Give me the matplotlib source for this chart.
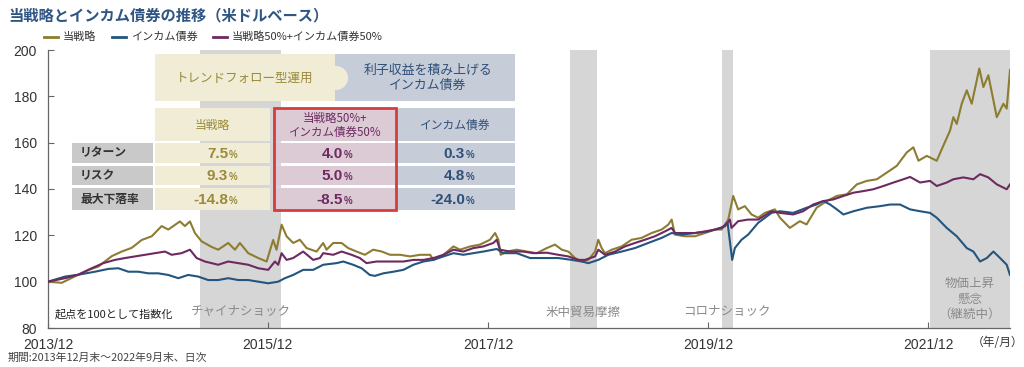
import matplotlib
matplotlib.use("Agg")
import matplotlib.pyplot as plt
from matplotlib.patches import Rectangle, Ellipse
from matplotlib.lines import Line2D
from datetime import datetime, timedelta

# ---------------- data (time in decimal years; 2014.0 = end of 2013/12) ----------------
strategy_t = [2014.000, 2014.125, 2014.275, 2014.366, 2014.457, 2014.579, 2014.670, 2014.761, 2014.852, 2014.943,
              2015.034, 2015.094, 2015.200, 2015.245, 2015.291, 2015.336, 2015.397, 2015.488, 2015.548, 2015.639,
              2015.700, 2015.745, 2015.821, 2015.912, 2015.988, 2016.048, 2016.079, 2016.125, 2016.170, 2016.230,
              2016.291, 2016.352, 2016.443, 2016.503, 2016.534, 2016.594, 2016.670, 2016.730, 2016.806, 2016.882,
              2016.957, 2017.034, 2017.109, 2017.200, 2017.291, 2017.382, 2017.473, 2017.503, 2017.594, 2017.685,
              2017.745, 2017.836, 2017.927, 2018.018, 2018.064, 2018.094, 2018.115, 2018.170, 2018.261, 2018.352,
              2018.443, 2018.534, 2018.609, 2018.670, 2018.730, 2018.791, 2018.852, 2018.912, 2018.973, 2019.003,
              2019.034, 2019.064, 2019.125, 2019.215, 2019.306, 2019.397, 2019.488, 2019.579, 2019.639, 2019.670,
              2019.700, 2019.791, 2019.882, 2019.973, 2020.064, 2020.125, 2020.185, 2020.230, 2020.275, 2020.336,
              2020.397, 2020.457, 2020.518, 2020.609, 2020.655, 2020.745, 2020.836, 2020.897, 2020.988, 2021.079,
              2021.170, 2021.261, 2021.352, 2021.443, 2021.534, 2021.625, 2021.715, 2021.806, 2021.866, 2021.912,
              2021.988, 2022.079, 2022.139, 2022.200, 2022.230, 2022.261, 2022.306, 2022.352, 2022.397, 2022.466,
              2022.503, 2022.548, 2022.594, 2022.625, 2022.685, 2022.715, 2022.745]
strategy_v = [100.0, 99.5, 103.0, 105.0, 106.5, 111.0, 113.0, 114.6, 118.0, 119.6,
              124.0, 122.5, 126.0, 124.0, 126.0, 121.0, 117.4, 115.0, 113.8, 116.7,
              113.8, 116.7, 112.3, 110.2, 108.7, 118.0, 113.8, 124.6, 119.6, 116.7,
              118.1, 114.5, 113.0, 116.7, 113.8, 116.7, 116.7, 114.5, 113.0, 111.6,
              113.8, 113.0, 111.6, 111.6, 110.9, 111.6, 111.6, 109.4, 111.6, 115.2,
              113.8, 115.2, 116.0, 118.1, 121.0, 118.1, 111.6, 113.0, 113.8, 113.0,
              112.3, 114.5, 116.0, 113.8, 113.0, 110.2, 108.7, 109.4, 113.0, 118.1,
              114.5, 112.3, 113.8, 115.2, 118.1, 118.9, 121.0, 122.5, 124.6, 126.8,
              120.3, 119.6, 119.6, 121.0, 122.5, 122.5, 126.8, 137.0, 131.2, 132.6,
              129.0, 127.6, 129.7, 131.2, 127.6, 123.2, 126.1, 124.7, 131.9, 134.8,
              137.0, 137.7, 142.0, 143.5, 144.2, 147.1, 150.0, 155.8, 158.0, 152.2,
              154.3, 152.2, 158.7, 165.2, 171.0, 168.1, 176.8, 182.6, 176.8, 192.0,
              184.0, 189.1, 178.3, 171.0, 176.8, 174.7, 191.4]

income_t = [2014.000, 2014.155, 2014.275, 2014.427, 2014.548, 2014.639, 2014.730, 2014.821, 2014.912, 2015.003,
            2015.094, 2015.185, 2015.275, 2015.366, 2015.457, 2015.548, 2015.639, 2015.730, 2015.821, 2015.912,
            2016.003, 2016.094, 2016.155, 2016.230, 2016.321, 2016.412, 2016.503, 2016.625, 2016.685, 2016.775,
            2016.852, 2016.927, 2016.973, 2017.048, 2017.139, 2017.230, 2017.321, 2017.412, 2017.503, 2017.594,
            2017.685, 2017.775, 2017.866, 2017.957, 2018.079, 2018.139, 2018.261, 2018.382, 2018.473, 2018.639,
            2018.761, 2018.852, 2018.912, 2019.003, 2019.094, 2019.215, 2019.336, 2019.457, 2019.579, 2019.670,
            2019.761, 2019.882, 2020.003, 2020.125, 2020.179, 2020.221, 2020.245, 2020.306, 2020.366, 2020.457,
            2020.579, 2020.655, 2020.775, 2020.897, 2020.988, 2021.048, 2021.109, 2021.170, 2021.230, 2021.321,
            2021.443, 2021.564, 2021.655, 2021.745, 2021.836, 2021.927, 2022.018, 2022.079, 2022.170, 2022.261,
            2022.352, 2022.412, 2022.473, 2022.534, 2022.594, 2022.655, 2022.715, 2022.745]
income_v = [100.0, 102.2, 103.0, 104.3, 105.5, 105.8, 104.3, 104.3, 103.6, 103.6,
            102.9, 101.5, 102.9, 102.2, 100.7, 100.7, 101.5, 100.7, 100.7, 100.0,
            99.3, 100.0, 101.5, 102.9, 105.1, 105.1, 107.3, 108.0, 108.7, 107.3,
            105.8, 102.9, 102.5, 103.6, 104.3, 105.1, 107.3, 108.7, 109.4, 110.9,
            112.3, 111.6, 112.3, 113.0, 114.1, 112.3, 112.3, 110.2, 110.2, 110.2,
            109.4, 108.7, 108.0, 109.4, 111.6, 113.0, 114.5, 116.7, 118.9, 121.0,
            120.3, 121.0, 121.7, 123.2, 125.4, 109.4, 114.5, 118.1, 120.3, 125.4,
            129.7, 130.4, 129.7, 131.9, 133.3, 134.8, 133.3, 131.2, 129.0, 130.4,
            131.9, 132.6, 133.3, 133.3, 131.2, 130.4, 129.7, 127.6, 123.2, 119.6,
            114.5, 113.0, 108.7, 110.2, 113.0, 110.2, 107.3, 102.9]

mix_t = [2014.000, 2014.155, 2014.275, 2014.397, 2014.503, 2014.609, 2014.700, 2014.791, 2014.882, 2014.973,
         2015.064, 2015.125, 2015.215, 2015.291, 2015.352, 2015.427, 2015.548, 2015.639, 2015.730, 2015.821,
         2015.912, 2016.003, 2016.064, 2016.094, 2016.125, 2016.170, 2016.230, 2016.321, 2016.412, 2016.473,
         2016.503, 2016.594, 2016.670, 2016.761, 2016.836, 2016.897, 2016.988, 2017.109, 2017.230, 2017.321,
         2017.412, 2017.503, 2017.594, 2017.685, 2017.775, 2017.866, 2017.957, 2018.048, 2018.079, 2018.109,
         2018.200, 2018.321, 2018.412, 2018.534, 2018.639, 2018.730, 2018.821, 2018.882, 2018.973, 2019.003,
         2019.064, 2019.155, 2019.245, 2019.336, 2019.427, 2019.518, 2019.609, 2019.670, 2019.700, 2019.791,
         2019.882, 2019.973, 2020.064, 2020.155, 2020.200, 2020.215, 2020.275, 2020.366, 2020.457, 2020.579,
         2020.655, 2020.775, 2020.866, 2020.957, 2021.048, 2021.139, 2021.230, 2021.321, 2021.412, 2021.503,
         2021.594, 2021.685, 2021.775, 2021.836, 2021.927, 2022.018, 2022.079, 2022.170, 2022.230, 2022.321,
         2022.412, 2022.473, 2022.548, 2022.625, 2022.715, 2022.745]
mix_v = [100.0, 101.5, 103.0, 105.8, 108.0, 109.4, 110.2, 110.9, 111.6, 112.3,
         113.0, 111.6, 112.3, 113.8, 110.2, 108.7, 107.3, 108.7, 108.0, 107.3,
         105.8, 105.1, 108.7, 107.3, 112.3, 109.4, 110.2, 113.0, 109.4, 110.2,
         112.3, 111.6, 113.0, 111.6, 110.2, 108.0, 108.7, 108.7, 108.7, 109.4,
         109.4, 110.2, 111.6, 113.8, 113.0, 114.5, 115.2, 116.7, 118.1, 113.8,
         113.0, 113.0, 112.3, 112.5, 111.6, 110.9, 109.4, 109.4, 110.9, 113.8,
         111.6, 113.0, 115.2, 116.7, 118.1, 119.6, 121.7, 123.2, 121.0, 121.0,
         121.0, 121.7, 122.5, 123.9, 126.8, 123.2, 126.1, 126.8, 126.8, 130.4,
         129.7, 129.0, 130.4, 133.3, 134.8, 135.5, 137.0, 138.4, 139.1, 139.9,
         141.3, 142.8, 144.2, 145.2, 142.8, 143.5, 141.3, 142.8, 144.2, 145.0,
         144.2, 146.4, 145.0, 142.0, 139.9, 142.0]

series_labels = ["当戦略", "インカム債券", "当戦略50%+インカム債券50%"]
series_colors = ["#8c7d32", "#23557f", "#6e2a60"]

# shaded events (decimal years)
event_labels = ["チャイナショック", "米中貿易摩擦", "コロナショック", "物価上昇\n懸念\n（継続中）"]
event_start = [2015.382, 2018.745, 2020.125, 2022.018]
event_end = [2016.118, 2018.991, 2020.230, 2022.745]

tick_years = [2014.0, 2016.0, 2018.0, 2020.0, 2022.0]
tick_labels = ["2013/12", "2015/12", "2017/12", "2019/12", "2021/12"]

# table
metric_labels = ["リターン", "リスク", "最大下落率"]
strategy_stats = [7.5, 9.3, -14.8]
mix_stats = [4.0, 5.0, -8.5]
income_stats = [0.3, 4.8, -24.0]


def to_dt(t):
    y = int(t)
    return datetime(y, 1, 1) + timedelta(days=(t - y) * 365.25)


JP = ["Noto Sans CJK JP", "DejaVu Sans"]
plt.rcParams["font.family"] = JP

W, H = 1024, 367
fig = plt.figure(figsize=(W / 100, H / 100), dpi=100)
ax = fig.add_axes([48 / W, 1 - 328 / H, (1010 - 48) / W, (328 - 50) / H])

# shading
shade = "#d6d6d6"
for s, e in zip(event_start, event_end):
    ax.axvspan(to_dt(s), to_dt(e), color=shade, lw=0, zorder=1)

# lines
for t, v, c, lab in [(strategy_t, strategy_v, series_colors[0], series_labels[0]),
                     (income_t, income_v, series_colors[1], series_labels[1]),
                     (mix_t, mix_v, series_colors[2], series_labels[2])]:
    ax.plot([to_dt(x) for x in t], v, color=c, lw=1.5, zorder=3, label=lab)

ax.set_ylim(80, 200)
ax.set_yticks([80, 100, 120, 140, 160, 180, 200])
ax.set_xlim(to_dt(2014.0), to_dt(2022.745))
ax.set_xticks([to_dt(t) for t in tick_years])
ax.set_xticklabels(tick_labels)
for s in ["top", "right"]:
    ax.spines[s].set_visible(False)
for s in ["left", "bottom"]:
    ax.spines[s].set_color("#666666")
    ax.spines[s].set_linewidth(0.9)
ax.tick_params(axis="both", direction="in", length=4, color="#666666", labelcolor="#333333")
ax.tick_params(axis="y", pad=8)
ax.tick_params(axis="x", pad=7)
for lbl in ax.get_xticklabels() + ax.get_yticklabels():
    lbl.set_fontfamily(["Liberation Sans", "DejaVu Sans"])
    lbl.set_fontsize(10)

# event labels
ev_color = "#8a8a8a"
ev_pos = [(241, 311), (583, 312), (727, 312), (970, 299)]
for lab, (px_, py_) in zip(event_labels, ev_pos):
    fig.text(px_ / W, 1 - py_ / H, lab, ha="center", va="center", fontsize=9,
             color=ev_color, linespacing=1.25)

fig.text(55 / W, 1 - 314 / H, "起点を100として指数化", ha="left", va="center", fontsize=8, color="#222222")
fig.text(972 / W, 1 - 343 / H, "（年/月）", ha="left", va="center", fontsize=8.5, color="#333333")

# title, legend, footer
fig.text(8 / W, 1 - 15 / H, "当戦略とインカム債券の推移（米ドルベース）", ha="left", va="center",
         fontsize=11, fontweight="bold", color="#2e5584")
fig.text(8 / W, 1 - 358 / H, "期間:2013年12月末～2022年9月末、日次", ha="left", va="center",
         fontsize=7.8, color="#444444")
handles = [Line2D([], [], color=c, lw=2) for c in series_colors]
fig.legend(handles, series_labels, loc="center left", bbox_to_anchor=(44 / W, 1 - 37 / H), ncol=3,
           frameon=False, fontsize=8, handlelength=1.3, handletextpad=0.4, columnspacing=1.4,
           labelcolor="#333333", borderaxespad=0, borderpad=0)


# ---------------- table overlay ----------------
def rect(x0, y0, x1, y1, fc, ec="none", lw=0, z=5):
    r = Rectangle((x0 / W, 1 - y1 / H), (x1 - x0) / W, (y1 - y0) / H, transform=fig.transFigure,
                  fc=fc, ec=ec, lw=lw, zorder=z, clip_on=False)
    fig.add_artist(r)


beige = "#f1ecd6"
pink = "#dccad5"
bluegray = "#c6ccd8"
gray = "#c9c9c9"
olive_t = "#9a8a3a"
purple_t = "#6e2a60"
navy_t = "#2f5078"

rect(335, 54, 515, 101, bluegray)
rect(155, 54, 335, 101, beige)
bulge = Ellipse((336 / W, 1 - 78 / H), 24 / W, 24 / H, transform=fig.transFigure, fc=beige, ec="none",
                zorder=5, clip_on=False)
fig.add_artist(bulge)
fig.text(245 / W, 1 - 78 / H, "トレンドフォロー型運用", ha="center", va="center", fontsize=9, color=olive_t,
         zorder=6)
fig.text(428 / W, 1 - 78 / H, "利子収益を積み上げる\nインカム債券", ha="center", va="center", fontsize=9.3,
         color=navy_t, linespacing=1.25, zorder=6)

# column header row
rect(155, 108, 270, 141, beige)
rect(274, 108, 396, 141, pink)
rect(396, 108, 515, 141, bluegray)
fig.text(212 / W, 1 - 125 / H, series_labels[0], ha="center", va="center", fontsize=8.5, color=olive_t, zorder=6)
fig.text(335 / W, 1 - 125 / H, "当戦略50%+\nインカム債券50%", ha="center", va="center", fontsize=8.3,
         color=purple_t, linespacing=1.1, zorder=6)
fig.text(455 / W, 1 - 125 / H, series_labels[1], ha="center", va="center", fontsize=8.5, color=navy_t, zorder=6)

row_bounds = [(143, 163), (166, 185), (188, 210)]
cols = [(155, 270, beige, olive_t, 228, strategy_stats),
        (274, 396, pink, purple_t, 343, mix_stats),
        (396, 515, bluegray, navy_t, 465, income_stats)]
for i, (y0, y1) in enumerate(row_bounds):
    yc = (y0 + y1) / 2
    rect(72, y0, 153, y1, gray)
    fig.text(80 / W, 1 - yc / H, metric_labels[i], ha="left", va="center", fontsize=8.5,
             fontweight="bold", color="#333333", zorder=6)
    for (x0, x1, fc, tc, xr, stats) in cols:
        rect(x0, y0, x1, y1, fc)
        fig.text(xr / W, 1 - (yc + 5) / H, f"{stats[i]:.1f}", ha="right", va="baseline", fontsize=11,
                 fontweight="bold", color=tc, family=["Liberation Sans", "DejaVu Sans"], zorder=6)
        fig.text((xr + 0.5) / W, 1 - (yc + 5) / H, "%", ha="left", va="baseline", fontsize=7,
                 fontweight="bold", color=tc, family=["Liberation Sans", "DejaVu Sans"], zorder=6)

# red highlight frame
rect(274, 108, 396, 210, "none", ec="#d63c3c", lw=2, z=7)

fig.savefig("out.png", dpi=100)
